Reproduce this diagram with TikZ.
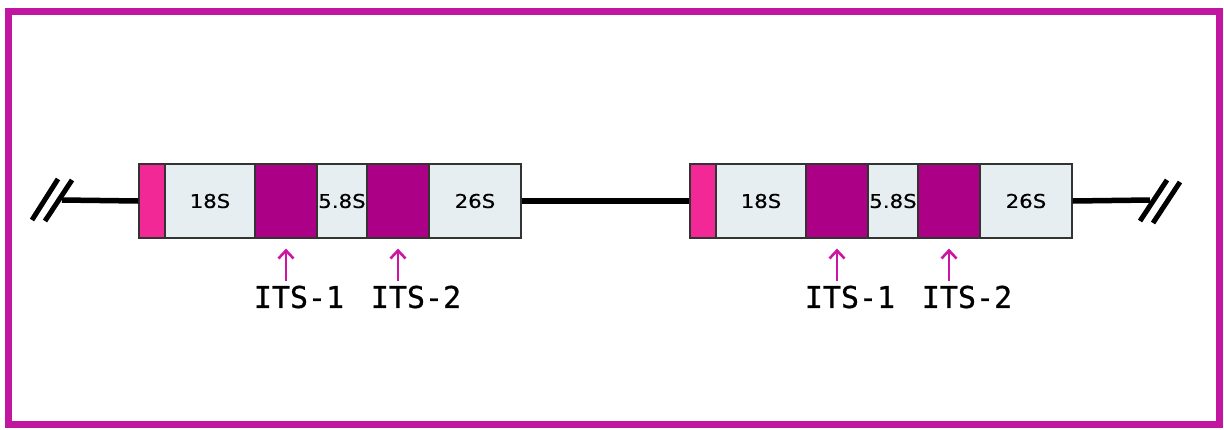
\documentclass[tikz,border=0pt]{standalone}
\usepackage{fontspec}
\usetikzlibrary{arrows.meta}
\newfontfamily\seglabel[FakeStretch=1.12,FakeBold=0.6]{DejaVu Sans}
\newfontfamily\itslabel[FakeBold=0.8]{DejaVu Sans Mono}
\definecolor{framemag}{RGB}{192,22,160}
\definecolor{etspink}{RGB}{242,40,150}
\definecolor{itspurple}{RGB}{172,0,134}
\definecolor{rnagrey}{RGB}{230,238,242}
\definecolor{arrowmag}{RGB}{206,20,160}
\tikzset{
  seg/.style={draw=black!80, line width=1.2pt, minimum height=74pt, inner sep=0pt, anchor=center},
  ets/.style={seg, fill=etspink},
  rna/.style={seg, fill=rnagrey, font=\seglabel\fontsize{19}{19}\selectfont},
  its/.style={seg, fill=itspurple},
  spacer/.style={line width=5.5pt, black},
  breakmark/.style={line width=5pt, black},
  itsarrow/.style={line width=2.6pt, arrowmag, -{Straight Barb[length=8pt,width=15pt]}},
  itsname/.style={font=\itslabel\fontsize{30}{30}\selectfont, inner sep=0pt, anchor=center},
}
\begin{document}
\begin{tikzpicture}[x=1pt,y=-1pt]
\useasboundingbox (0,0) rectangle (1224,429);
\fill[white] (0,0) rectangle (1224,429);
\draw[framemag, line width=7pt] (8,11) rectangle (1219,424);

% two repeat units of the rDNA array
\foreach \u/\dx in {1/0, 2/551}{
  \node[ets, minimum width=26pt] (u\u ets) at (152+\dx,201) {};
  \node[rna, minimum width=90pt] (u\u s18) at (210+\dx,201) {18S};
  \node[its, minimum width=62pt] (u\u itsA) at (286+\dx,201) {};
  \node[rna, minimum width=50pt] (u\u s58) at (342+\dx,201) {5.8S};
  \node[its, minimum width=62pt] (u\u itsB) at (398+\dx,201) {};
  \node[rna, minimum width=92pt] (u\u s26) at (475+\dx,201) {26S};
  \draw[itsarrow] ([yshift=-42pt]u\u itsA.south) -- ([yshift=-10pt]u\u itsA.south);
  \draw[itsarrow] ([yshift=-42pt]u\u itsB.south) -- ([yshift=-10pt]u\u itsB.south);
  \node[itsname] (u\u lblA) at (299+\dx,297) {ITS-1};
  \node[itsname] (u\u lblB) at (416+\dx,297) {ITS-2};
}

% intergenic spacer and the broken ends of the array
\coordinate (leftend) at (62,200);
\coordinate (rightend) at (1150,200);
\draw[spacer] (leftend) -- (u1ets.west);
\draw[spacer] (u1s26.east) -- (u2ets.west);
\draw[spacer] (u2s26.east) -- (rightend);
\draw[breakmark] (32,220) -- (58,179);
\draw[breakmark] (45,221) -- (72,180);
\draw[breakmark] (1140,221) -- (1167,180);
\draw[breakmark] (1153,223) -- (1180,182);
\end{tikzpicture}
\end{document}
